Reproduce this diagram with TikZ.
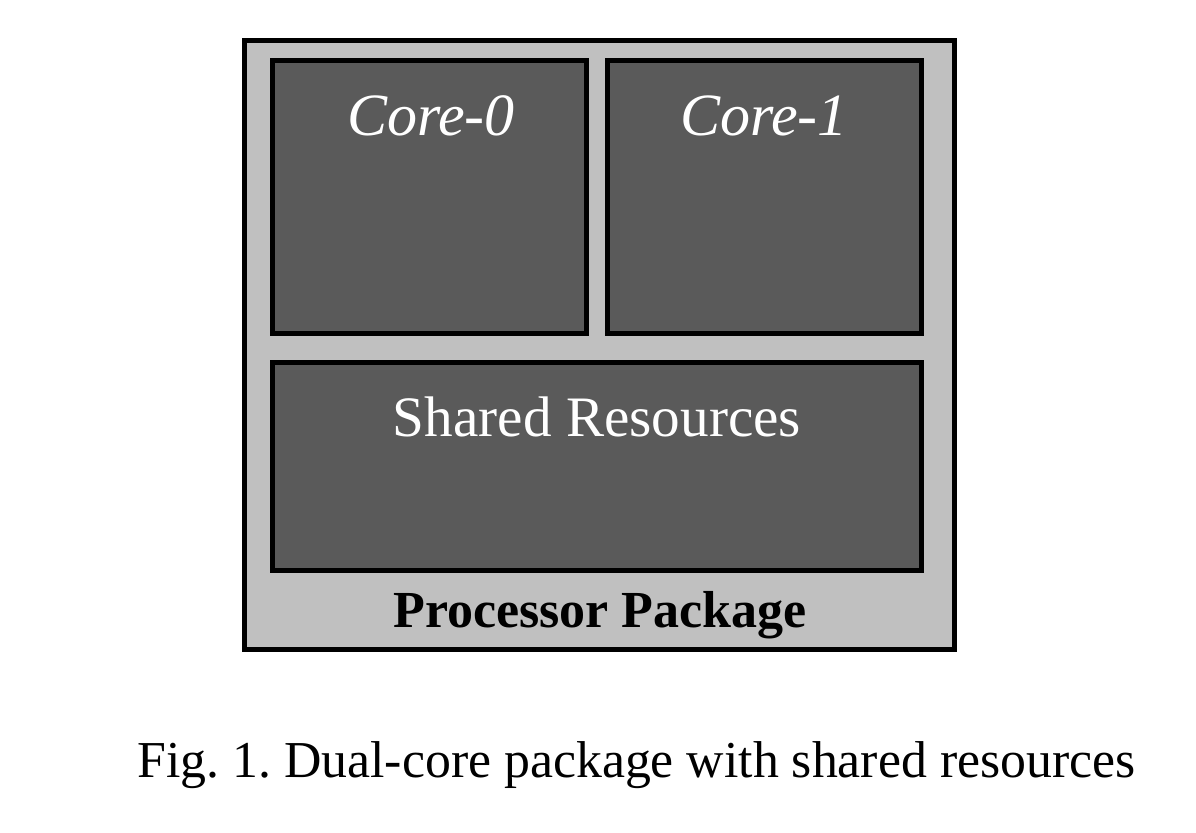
\documentclass[tikz,border=0pt]{standalone}
\usepackage{fontspec}
\setmainfont{Liberation Serif}
\definecolor{pkggray}{HTML}{C0C0C0}
\definecolor{coregray}{HTML}{5A5A5A}
\begin{document}
\frenchspacing
\begin{tikzpicture}[x=0.5pt,y=-0.5pt,
  pkgbox/.style={draw=black, line width=2.5pt, fill=pkggray, inner sep=0pt, outer sep=0pt, anchor=north west},
  corebox/.style={draw=black, line width=2.5pt, fill=coregray, inner sep=0pt, outer sep=0pt, anchor=north west},
  boxtext/.style={text=white, font=\fontsize{30}{36}\selectfont, anchor=base, inner sep=0pt},
]
\useasboundingbox (0,0) rectangle (1196,832);
\fill[white] (0,0) rectangle (1196,832);
\node[pkgbox, minimum width=355pt, minimum height=304.5pt] (pkg) at (244.5,40.5) {};
\node[corebox, minimum width=157pt, minimum height=136.5pt] (core0) at (272.5,60.5) {};
\node[corebox, minimum width=157pt, minimum height=136.5pt] (core1) at (607.5,60.5) {};
\node[corebox, minimum width=324.5pt, minimum height=104pt] (shared) at (272.5,362) {};
\node[boxtext, font=\fontsize{30}{36}\selectfont\itshape] (t0) at (431,135) {Core-0};
\node[boxtext, font=\fontsize{30}{36}\selectfont\itshape] (t1) at (764,135) {Core-1};
\node[boxtext, font=\fontsize{28.6}{34}\selectfont] (ts) at (597,436) {Shared Resources};
\node[anchor=base, inner sep=0pt, font=\fontsize{26}{31}\selectfont\bfseries] (tp) at (600,627) {Processor Package};
\node[anchor=base west, inner sep=0pt, font=\fontsize{25.9}{31}\selectfont] (cap) at (137,777) {Fig. 1. Dual-core package with shared resources};
\end{tikzpicture}
\end{document}
